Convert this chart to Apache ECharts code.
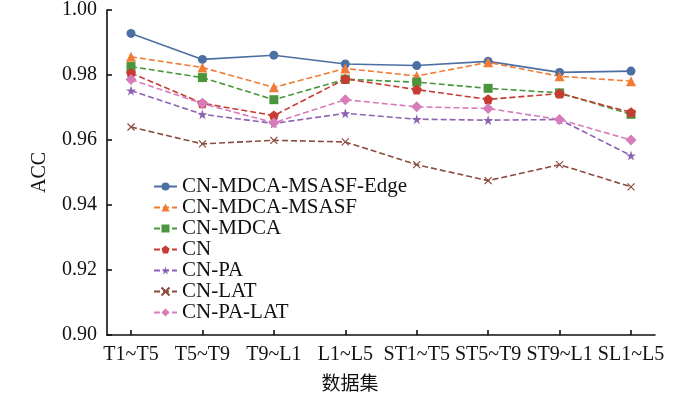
<!DOCTYPE html>
<html>
<head>
<meta charset="utf-8">
<script src="https://cdn.jsdelivr.net/npm/echarts@6/dist/echarts.min.js"></script>
<style>
  html, body { margin: 0; padding: 0; background: #fff; }
  #main { width: 700px; height: 397px; }
</style>
</head>
<body>
<div id="main"></div>
<script>
// 数据集类别
var categories = ["T1~T5", "T5~T9", "T9~L1", "L1~L5", "ST1~T5", "ST5~T9", "ST9~L1", "SL1~L5"];
var yTicks = [0.90, 0.92, 0.94, 0.96, 0.98, 1.00];

var edge    = [0.9928, 0.9848, 0.9861, 0.9834, 0.9829, 0.9842, 0.9808, 0.9812];
var msasf   = [0.9856, 0.9823, 0.9762, 0.9820, 0.9797, 0.9839, 0.9796, 0.9781];
var mdca    = [0.9826, 0.9792, 0.9724, 0.9787, 0.9778, 0.9759, 0.9745, 0.9679];
var cn      = [0.9806, 0.9713, 0.9675, 0.9788, 0.9755, 0.9725, 0.9743, 0.9685];
var pa      = [0.9752, 0.9679, 0.9651, 0.9682, 0.9664, 0.9661, 0.9663, 0.9552];
var lat     = [0.9640, 0.9588, 0.9599, 0.9594, 0.9524, 0.9475, 0.9524, 0.9456];
var paLat   = [0.9786, 0.9712, 0.9653, 0.9724, 0.9702, 0.9697, 0.9663, 0.9600];

var font = "Liberation Serif";
var pentagon = "path://M0,-1L0.951,-0.309L0.588,0.809L-0.588,0.809L-0.951,-0.309Z";
var star = "path://M0,-1L0.2245,-0.309L0.951,-0.309L0.363,0.118L0.588,0.809L0,0.382L-0.588,0.809L-0.363,0.118L-0.951,-0.309L-0.2245,-0.309Z";
var cross = "path://M-1,-1L1,1M1,-1L-1,1";

function pts(arr) {
  return arr.map(function (v, i) { return [i, v]; });
}

function line(name, data, color, symbol, size, dashed) {
  return {
    name: name,
    type: "line",
    data: pts(data),
    symbol: symbol,
    symbolSize: size,
    color: color,
    lineStyle: { width: 1.6, type: dashed ? [6, 3] : "solid", color: color },
    itemStyle: { color: color }
  };
}

var latSeries = line("CN-LAT", lat, "#8c4b3e", cross, 7, true);
latSeries.itemStyle = { color: "none", borderColor: "#8c4b3e", borderWidth: 1.2 };

var myChart = echarts.init(document.getElementById("main"));
myChart.setOption({
  animation: false,
  textStyle: { fontFamily: font },
  grid: { left: 107, top: 10, right: 45, bottom: 62 },
  legend: {
    orient: "vertical",
    left: 148,
    top: 171,
    itemWidth: 23,
    itemHeight: 10,
    itemGap: 0,
    textStyle: { fontFamily: font, fontSize: 21, lineHeight: 21, color: "#111" },
    data: ["CN-MDCA-MSASF-Edge", "CN-MDCA-MSASF", "CN-MDCA", "CN", "CN-PA", "CN-LAT", "CN-PA-LAT"]
  },
  xAxis: {
    type: "value",
    min: -0.336,
    max: 7.336,
    name: "数据集",
    nameLocation: "middle",
    nameGap: 38,
    nameTextStyle: { fontFamily: "Noto Sans CJK SC", fontSize: 19, color: "#111", padding: [0, 62, 0, 0] },
    splitLine: { show: false },
    axisLine: { onZero: false, lineStyle: { color: "#111", width: 1.6 } },
    axisTick: { inside: true, length: 5, customValues: [0, 1, 2, 3, 4, 5, 6, 7], lineStyle: { color: "#111", width: 1.6 } },
    axisLabel: {
      customValues: [0, 1, 2, 3, 4, 5, 6, 7],
      formatter: function (v) { return categories[Math.round(v)]; },
      fontFamily: font, fontSize: 20, color: "#111", margin: 10
    }
  },
  yAxis: {
    type: "value",
    min: 0.90,
    max: 1.00,
    interval: 0.02,
    name: "ACC",
    nameLocation: "middle",
    nameGap: 57,
    nameTextStyle: { fontFamily: font, fontSize: 20, color: "#111" },
    splitLine: { show: false },
    axisLine: { show: true, onZero: false, lineStyle: { color: "#111", width: 1.6 } },
    axisTick: { inside: true, length: 5, lineStyle: { color: "#111", width: 1.6 } },
    axisLabel: {
      formatter: function (v) { return v.toFixed(2); },
      fontFamily: font, fontSize: 20, color: "#111", margin: 10
    }
  },
  series: [
    line("CN-MDCA-MSASF-Edge", edge, "#4c6fa3", "circle", 9, false),
    line("CN-MDCA-MSASF", msasf, "#f27b35", "triangle", 10, true),
    line("CN-MDCA", mdca, "#4a963c", "rect", 9, true),
    line("CN", cn, "#c73b33", pentagon, 10, true),
    line("CN-PA", pa, "#8d62b0", star, 10, true),
    latSeries,
    line("CN-PA-LAT", paLat, "#d87bbb", "diamond", 11, true)
  ]
});
</script>
</body>
</html>
